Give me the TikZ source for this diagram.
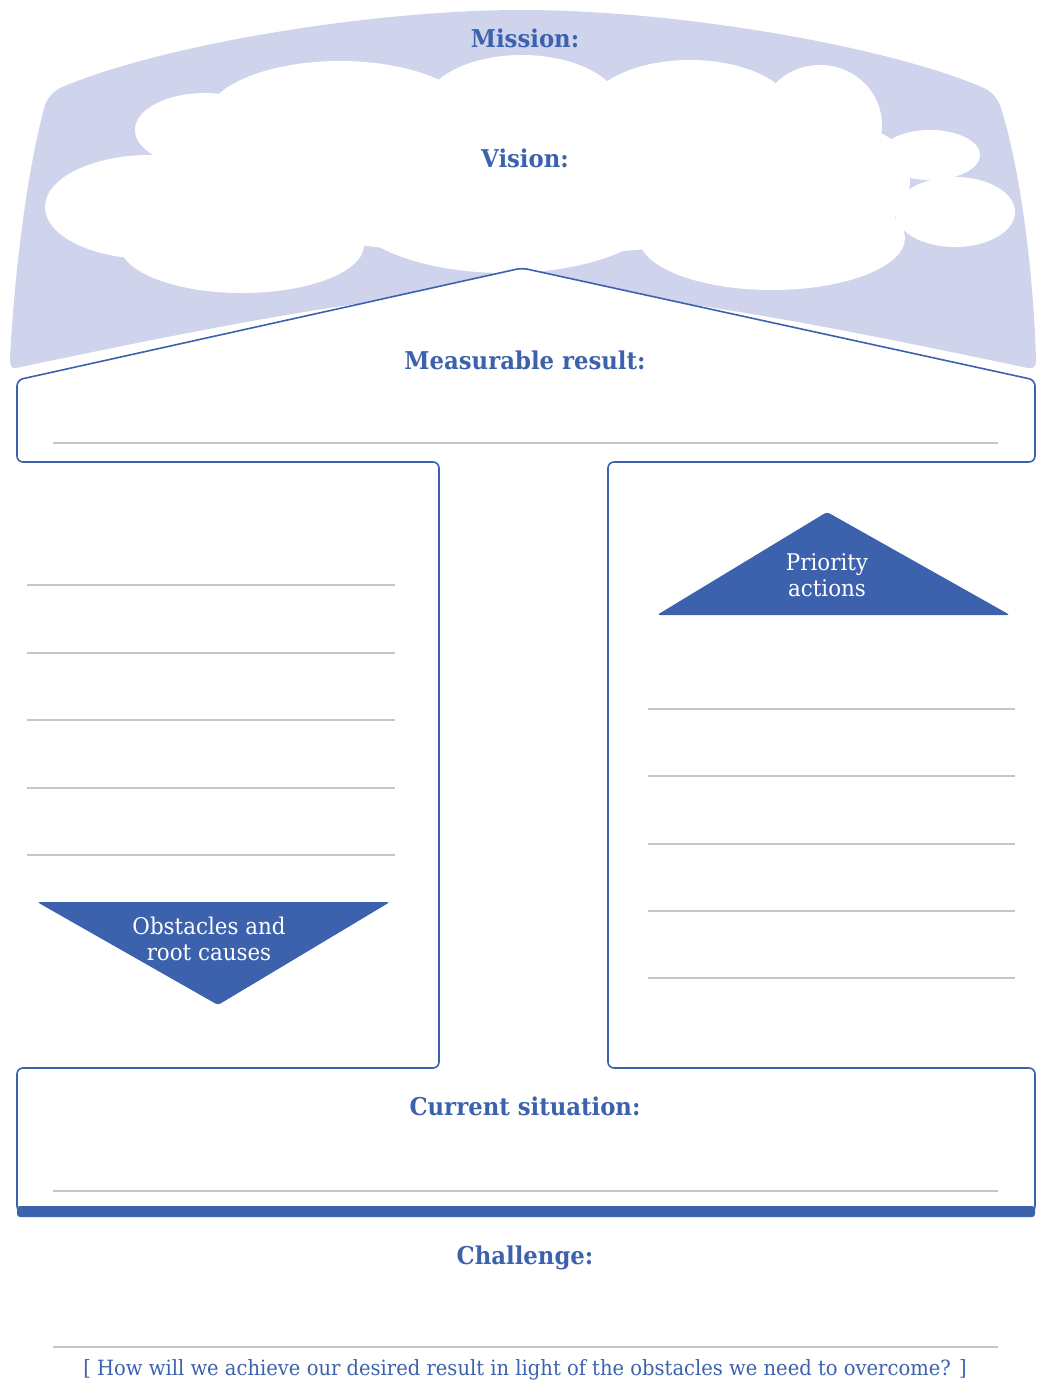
\documentclass[tikz,border=0pt]{standalone}
\usepackage{fontspec}
\setmainfont{DejaVu Serif}[FakeStretch=0.93]
\definecolor{brandblue}{HTML}{3C62AE}
\definecolor{skylav}{HTML}{CFD3EC}
\definecolor{ruleg}{HTML}{C6C6C6}

\begin{document}
\begin{tikzpicture}[x=1pt,y=-1pt,
  outline/.style={draw=brandblue, fill=white, line width=1.6pt, rounded corners=6pt},
  ruleline/.style={draw=ruleg, line width=1.1pt},
  heading/.style={text=brandblue, font=\bfseries\fontsize{24.5}{28}\selectfont, inner sep=0pt},
  tritext/.style={text=white, font=\fontsize{23}{26}\selectfont, align=center, inner sep=0pt},
  tribox/.style={fill=brandblue, rounded corners=3pt},
  cloudpart/.style={fill=white},
  notetext/.style={text=brandblue, font=\fontsize{21}{24}\selectfont, inner sep=0pt}
]
\useasboundingbox (0,0) rectangle (1038,1384);

% sky band behind the cloud
\fill[skylav] (60,88) .. controls (160,45) and (370,10) .. (522,10)
  .. controls (674,10) and (884,45) .. (984,88)
  .. controls (992,92) and (997,98) .. (1000,105)
  .. controls (1018,160) and (1033,260) .. (1036,360)
  .. controls (1036,366) and (1034,369) .. (1028,368)
  .. controls (800,320) and (640,290) .. (522,290)
  .. controls (404,290) and (244,320) .. (16,368)
  .. controls (11,369) and (10,365) .. (10,358)
  .. controls (16,250) and (30,160) .. (45,105)
  .. controls (48,97) and (53,92) .. (60,88) -- cycle;

% cloud built from overlapping lobes
\fill[cloudpart] (520,170) ellipse [x radius=340pt, y radius=85pt];
\fill[cloudpart] (150,207) ellipse [x radius=105pt, y radius=52pt];
\fill[cloudpart] (205,130) ellipse [x radius=70pt, y radius=37pt];
\fill[cloudpart] (242,245) ellipse [x radius=122pt, y radius=48pt];
\fill[cloudpart] (340,120) ellipse [x radius=135pt, y radius=59pt];
\fill[cloudpart] (522,110) ellipse [x radius=100pt, y radius=55pt];
\fill[cloudpart] (690,115) ellipse [x radius=105pt, y radius=55pt];
\fill[cloudpart] (820,125) ellipse [x radius=62pt, y radius=60pt];
\fill[cloudpart] (930,155) ellipse [x radius=50pt, y radius=25pt];
\fill[cloudpart] (955,212) ellipse [x radius=60pt, y radius=35pt];
\fill[cloudpart] (865,180) ellipse [x radius=45pt, y radius=50pt];
\fill[cloudpart] (772,238) ellipse [x radius=133pt, y radius=52pt];
\fill[cloudpart] (505,205) ellipse [x radius=160pt, y radius=68pt];

% house outline: roof, result box, two columns, situation box
\path[outline] (17,380) -- (522,268) -- (1035,380) -- (1035,462) -- (608,462)
  -- (608,1068) -- (1035,1068) -- (1035,1212) -- (17,1212) -- (17,1068)
  -- (439,1068) -- (439,462) -- (17,462) -- cycle;
\fill[brandblue, rounded corners=3pt] (17,1206) rectangle (1035,1217);

% writing lines
\draw[ruleline] (53,443) -- (998,443);
\foreach \yy in {585,653,720,788,855} \draw[ruleline] (27,\yy) -- (395,\yy);
\foreach \yy in {709,776,844,911,978} \draw[ruleline] (648,\yy) -- (1015,\yy);
\draw[ruleline] (53,1191) -- (998,1191);
\draw[ruleline] (53,1347) -- (998,1347);

% direction triangles
\path[tribox] (657,615) -- (827,512) -- (1010,615) -- cycle;
\path[tribox] (37,902) -- (390,902) -- (218,1005) -- cycle;

% labels
\node[heading] (mission) at (525,38) {Mission:};
\node[heading] (vision) at (525,158) {Vision:};
\node[heading] (result) at (525,360) {Measurable result:};
\node[heading] (situation) at (525,1106) {Current situation:};
\node[heading] (challenge) at (525,1258) {Challenge:};
\node[tritext] (priority) at (827,575) {Priority\\actions};
\node[tritext] (obstacles) at (209,939) {Obstacles and\\root causes};
\node[notetext] (note) at (525,1370) {[ How will we achieve our desired result in light of the obstacles we need to overcome? ]};
\end{tikzpicture}
\end{document}
